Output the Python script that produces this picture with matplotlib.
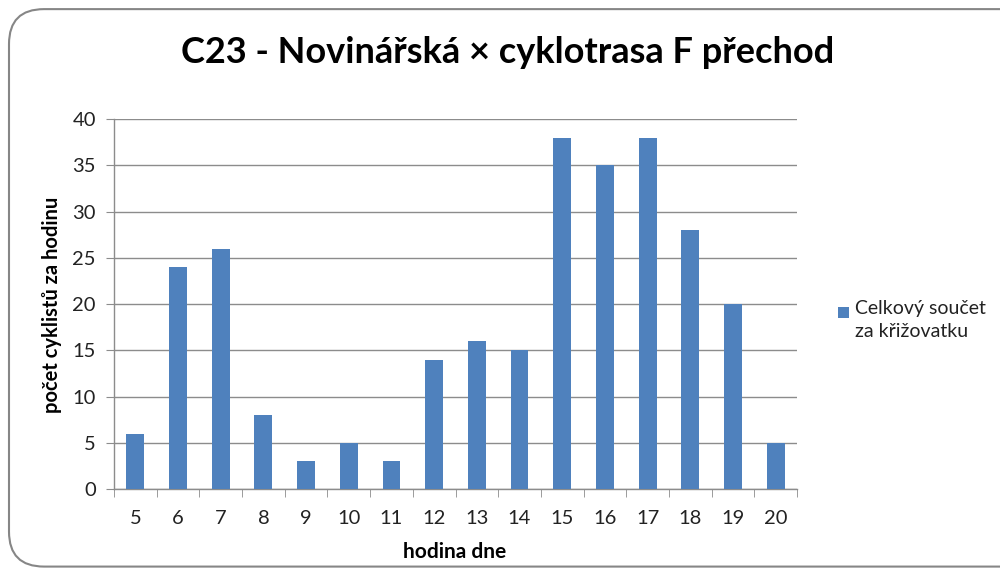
import matplotlib
matplotlib.use("Agg")
import matplotlib.pyplot as plt
from matplotlib.patches import FancyBboxPatch, Rectangle
import numpy as np

hours = ["5", "6", "7", "8", "9", "10", "11", "12", "13", "14", "15", "16", "17", "18", "19", "20"]
counts = [6, 24, 26, 8, 3, 5, 3, 14, 16, 15, 38, 35, 38, 28, 20, 5]
series_name = "Celkový součet\nza křižovatku"
title = "C23 - Novinářská × cyklotrasa F přechod"
xlabel = "hodina dne"
ylabel = "počet cyklistů za hodinu"

fig = plt.figure(figsize=(10, 5.7), dpi=100)
fig.patch.set_facecolor("white")

frame = FancyBboxPatch((0.009, 0.006), 1.05, 0.978, boxstyle="round,pad=0,rounding_size=0.035",
                       transform=fig.transFigure, facecolor="white", edgecolor="#868686",
                       linewidth=1.5, zorder=-5, mutation_aspect=1.75)
fig.patches.append(frame)

ax = fig.add_axes([0.114, 0.142, 0.683, 0.649])
ax.set_zorder(2)
ax.patch.set_alpha(0)
x = np.arange(len(hours))
ax.bar(x, counts, width=0.42, color="#4F81BD", zorder=3)
ax.set_xlim(-0.5, len(hours) - 0.5)
ax.set_ylim(0, 40)
ax.set_yticks(range(0, 41, 5))
ax.yaxis.grid(True, color="#8c8c8c", linewidth=1, zorder=0)
ax.set_axisbelow(True)
for s in ["top", "right"]:
    ax.spines[s].set_visible(False)
for s in ["left", "bottom"]:
    ax.spines[s].set_color("#8c8c8c")
    ax.spines[s].set_linewidth(1)
ax.set_xticks(x)
ax.set_xticklabels(hours)
ax.set_xticks(np.arange(-0.5, len(hours), 1), minor=True)
ax.tick_params(axis="x", which="major", length=0, pad=15, labelsize=14.5, labelcolor="#222222")
ax.tick_params(axis="x", which="minor", length=6, color="#8c8c8c", direction="out")
ax.tick_params(axis="y", length=6, color="#8c8c8c", pad=7, labelsize=14.5, labelcolor="#222222")
for lab in ax.get_xticklabels() + ax.get_yticklabels():
    lab.set_fontfamily("Lato")

fig.text(0.508, 0.908, title, ha="center", va="center", fontsize=26, fontweight="bold",
         family="Lato", color="black")
fig.text(0.455, 0.032, xlabel, ha="center", va="center", fontsize=15, fontweight="bold",
         family="Lato")
fig.text(0.052, 0.465, ylabel, ha="center", va="center", fontsize=14.5, fontweight="bold",
         family="Lato", rotation=90)

fig.patches.append(Rectangle((0.838, 0.442), 0.011, 0.019, transform=fig.transFigure,
                             facecolor="#4F81BD", edgecolor="none"))
fig.text(0.855, 0.474, series_name, ha="left", va="top", fontsize=14, family="Lato",
         color="#222222", linespacing=1.45)

fig.savefig("out.png", dpi=100)
